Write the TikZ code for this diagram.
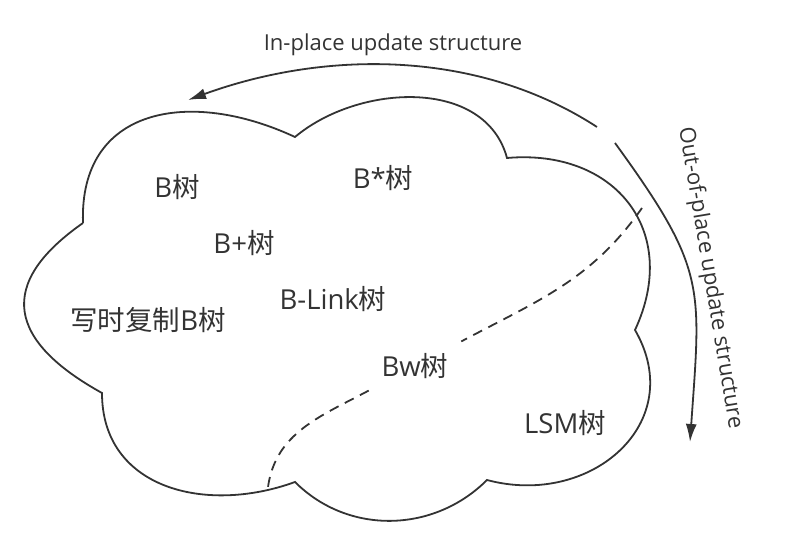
\documentclass[tikz,border=0pt]{standalone}
\usepackage{fontspec}
\setmainfont{Open Sans}
\newfontfamily\cjk{Noto Sans CJK SC}
\usetikzlibrary{arrows.meta}
\definecolor{ink}{HTML}{333333}
\newcommand{\shu}{{\cjk 树}}
\begin{document}
\begin{tikzpicture}[x=1pt,y=1pt,line width=1.8pt,color=ink,
    lbl/.style={text=ink,inner sep=0pt,font=\fontsize{27.5}{32}\selectfont},
    arrlbl/.style={text=ink,inner sep=0pt,font=\fontsize{22}{26}\selectfont},
    >={Latex[length=18pt,width=11pt]}]
    \useasboundingbox (0,0) rectangle (788,556);
    \coordinate (c1) at (83,333);
    \coordinate (c2) at (295,419);
    \coordinate (c3) at (507,398);
    \coordinate (c4) at (635,226);
    \coordinate (c5) at (487,76);
    \coordinate (c6) at (295,74);
    \coordinate (c7) at (102,163);
    \draw (c1) to[out=92,in=155,looseness=1.3] (c2)
        to[out=40,in=105] (c3)
        to[out=5,in=65,looseness=1.3] (c4)
        to[out=-60,in=-15,looseness=1.3] (c5)
        to[out=-135,in=-45] (c6)
        to[out=-160,in=-90,looseness=1.15] (c7)
        to[out=151,in=-145,looseness=1.6] (c1);
    \node[lbl] (btree) at (177,369) {B\shu};
    \node[lbl] (bstar) at (383,378) {B*\shu};
    \node[lbl] (bplus) at (244,313) {B+\shu};
    \node[lbl] (blink) at (333,257) {B-Link\shu};
    \node[lbl] (cow) at (148,236) {{\cjk 写时复制}B\shu};
    \node[lbl,inner sep=12pt] (bw) at (415,190) {Bw\shu};
    \node[lbl] (lsm) at (565,133) {LSM\shu};
    \coordinate (ds) at (642,348);
    \coordinate (de) at (268,69);
    \draw[dashed,dash pattern=on 10pt off 7pt] (ds) to[out=-125,in=28] (bw)
        to[out=-152,in=82] (de);
    \coordinate (ipS) at (597,429);
    \coordinate (ipE) at (188,456);
    \draw[->] (ipS) to[out=147,in=20,looseness=0.9] (ipE);
    \node[arrlbl] (inplace) at (393,511) {In-place update structure};
    \coordinate (opS) at (615,413);
    \coordinate (opE) at (690,114);
    \draw[->] (opS) to[out=-54,in=86,looseness=1.3] (opE);
    \node[arrlbl,rotate=-80.5] (outplace) at (710,278) {Out-of-place update structure};
\end{tikzpicture}
\end{document}
